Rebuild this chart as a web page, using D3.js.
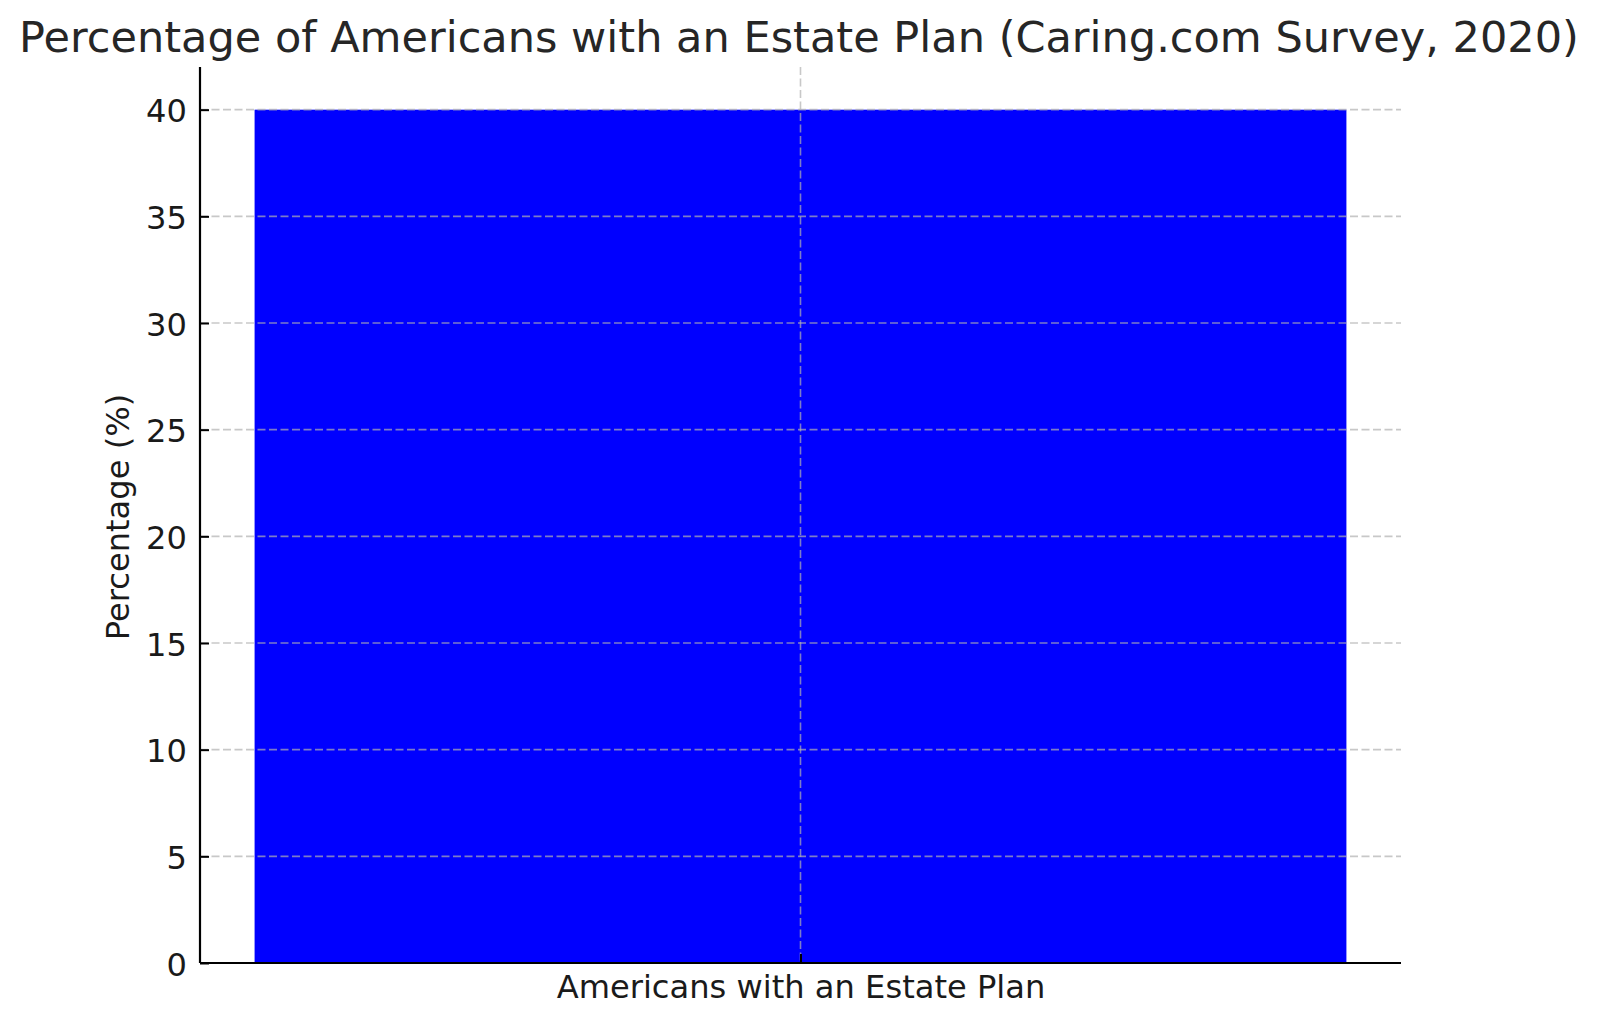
<!DOCTYPE html>
<html><head><meta charset="utf-8">
<script src="https://cdn.jsdelivr.net/npm/d3@7"></script>
<style>body{margin:0;background:#fff}svg{display:block}text{font-family:"DejaVu Sans",sans-serif}</style>
</head><body>
<svg id="c" width="1600" height="1024"></svg>
<script>
const categories = ["Americans with an Estate Plan"];
const values = [40];
const yTicks = [0, 5, 10, 15, 20, 25, 30, 35, 40];
const titleText = "Percentage of Americans with an Estate Plan (Caring.com Survey, 2020)";
const yLabel = "Percentage (%)";

const svg = d3.select("#c");
const L = 200, R = 1401, T = 67, B = 963;

const x = d3.scaleLinear().domain([-0.44, 0.44]).range([L, R]);
const y = d3.scaleLinear().domain([0, 42]).range([B, T]);
const barW = 0.8;

// fit font sizes to measured widths from reference
function fitSize(text, targetW) {
  const t = svg.append("text").attr("font-size", 100).text(text);
  const w = t.node().getComputedTextLength();
  t.remove();
  return 100 * targetW / w;
}
const labelSize = fitSize(categories[0], 489);
const titleSize = fitSize(titleText, 1560);

// bars
svg.selectAll("rect.bar").data(values).join("rect")
  .attr("x", (d, i) => x(i - barW / 2))
  .attr("width", (d, i) => x(i + barW / 2) - x(i - barW / 2))
  .attr("y", d => y(d))
  .attr("height", d => y(0) - y(d))
  .attr("fill", "#0000ff");

// grid
const grid = svg.append("g");
grid.selectAll("line.gy").data(yTicks).join("line")
  .attr("x1", L).attr("x2", R)
  .attr("y1", d => y(d)).attr("y2", d => y(d))
  .attr("stroke", "#b0b0b0").attr("stroke-opacity", 0.7)
  .attr("stroke-width", 1.6).attr("stroke-dasharray", "8,3.5");
grid.selectAll("line.gx").data(categories).join("line")
  .attr("x1", (d, i) => x(i)).attr("x2", (d, i) => x(i))
  .attr("y1", T).attr("y2", B)
  .attr("stroke", "#b0b0b0").attr("stroke-opacity", 0.7)
  .attr("stroke-width", 1.6).attr("stroke-dasharray", "8,3.5");

// y axis
const yAxis = d3.axisLeft(y).tickValues(yTicks).tickSizeInner(-9).tickSizeOuter(0).tickPadding(13);
const gy = svg.append("g").attr("transform", `translate(${L},0)`).call(yAxis);
gy.select(".domain").attr("stroke", "#000").attr("stroke-width", 2.2).attr("d", `M0,${T}V${B}`);
gy.selectAll(".tick line").attr("stroke", "#000").attr("stroke-width", 2);
gy.selectAll(".tick text").attr("font-size", labelSize).attr("fill", "#1a1a1a").attr("dy", "0.38em");

// x axis
const xAxis = d3.axisBottom(x).tickValues(categories.map((d, i) => i)).tickFormat(i => categories[i])
  .tickSizeInner(-9).tickSizeOuter(0).tickPadding(14);
const gx = svg.append("g").attr("transform", `translate(0,${B})`).call(xAxis);
gx.select(".domain").attr("stroke", "#000").attr("stroke-width", 2.2).attr("d", `M${L},0H${R}`);
gx.selectAll(".tick line").attr("stroke", "#000").attr("stroke-width", 2);
gx.selectAll(".tick text").attr("font-size", labelSize).attr("fill", "#1a1a1a").attr("y", 35).attr("dy", 0);

// y label
svg.append("text").attr("transform", `translate(129,${(T + B) / 2 + 2}) rotate(-90)`)
  .attr("text-anchor", "middle").attr("font-size", labelSize).attr("fill", "#1a1a1a").text(yLabel);

// title
svg.append("text").attr("x", (L + R) / 2 - 1.5).attr("y", 52).attr("text-anchor", "middle")
  .attr("font-size", titleSize).attr("fill", "#262626").text(titleText);
</script>
</body></html>
